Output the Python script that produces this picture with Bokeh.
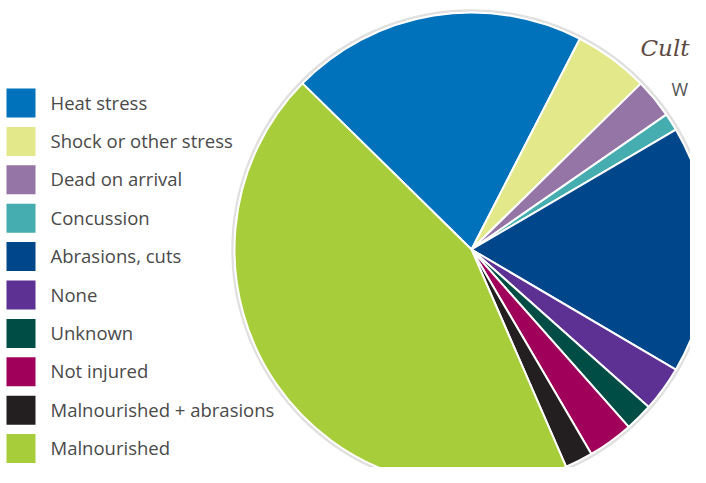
from bokeh.plotting import figure
from bokeh.models import Range1d, ColumnDataSource
from bokeh.embed import file_html
from bokeh.resources import INLINE
from bokeh.core.properties import value

# ---- data ----
categories = ["Heat stress", "Shock or other stress", "Dead on arrival", "Concussion",
              "Abrasions, cuts", "None", "Unknown", "Not injured",
              "Malnourished + abrasions", "Malnourished"]
shares = [20.2, 5.1, 2.7, 1.2, 16.9, 3.1, 1.9, 3.1, 1.9, 43.9]
colors = ["#0072BC", "#E3E88A", "#9575A6", "#45ADB0", "#00468B",
          "#5C3193", "#004D45", "#A0005A", "#231F20", "#A8CD3A"]
title_text = "Cult"
subtitle_text = "W"

# ---- layout: pixel coordinates, y measured upward from the plot bottom ----
W, H = 690, 467


def up(y_screen):
    return H - y_screen


cx, cy = 471, up(249)
R = 237
START_DEG = 135.5

total = sum(shares)
cum = [0.0]
for s in shares:
    cum.append(cum[-1] + s)
start_angles = [START_DEG - cum[i + 1] / total * 360.0 for i in range(len(shares))]
end_angles = [START_DEG - cum[i] / total * 360.0 for i in range(len(shares))]

src = ColumnDataSource(dict(start=start_angles, end=end_angles, color=colors, cat=categories))

p = figure(width=W, height=H, output_backend="svg", toolbar_location=None,
           x_range=Range1d(0, W), y_range=Range1d(0, H), min_border=0)
p.axis.visible = False
p.grid.visible = False
p.outline_line_color = None
p.background_fill_color = "white"

# soft grey rim
p.circle(x=[cx], y=[cy], radius=R + 2, radius_units="screen",
         fill_color=None, line_color="#e0e0e0", line_width=2.5)

p.wedge(x=cx, y=cy, radius=R, radius_units="screen",
        start_angle="start", end_angle="end",
        start_angle_units="deg", end_angle_units="deg",
        fill_color="color", line_color="white", line_width=2, source=src)

# legend
n = len(categories)
centers = [102.5 + i * 38.4 for i in range(n)]
sq_y = [up(c) for c in centers]
tx_y = [up(c - 1) for c in centers]
p.rect(x=[20.5] * n, y=sq_y, width=29, height=29, width_units="screen",
       height_units="screen", fill_color=colors, line_color=None)
p.text(x=[50] * n, y=tx_y, text=categories, text_baseline="middle",
       text_align="left", text_font=value("Open Sans"), text_font_size="18.5px",
       text_color="#4a4a4a")

# title fragments (kept inside the canvas)
p.text(x=[640], y=[up(47.5)], text=[title_text], text_baseline="alphabetic",
       text_font=value("DejaVu Serif"), text_font_style="italic",
       text_font_size="23px", text_color="#5b4a42")
p.text(x=[671], y=[up(88)], text=[subtitle_text], text_baseline="alphabetic",
       text_font=value("Open Sans"), text_font_size="18px", text_color="#555555")

open("out.html", "w").write(file_html(p, INLINE))
